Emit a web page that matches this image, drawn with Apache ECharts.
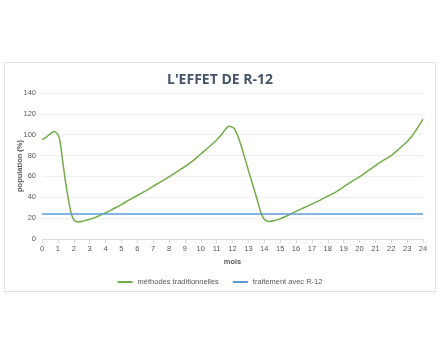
<!DOCTYPE html>
<html>
<head>
<meta charset="utf-8">
<script src="https://cdn.jsdelivr.net/npm/echarts@6/dist/echarts.min.js"></script>
<style>
  html, body { margin: 0; padding: 0; background: #fff; }
  #myChart { width: 440px; height: 352px; }
</style>
</head>
<body>
<div id="myChart"></div>
<script>
// points (mois, population %)
var traditionnellesMois = [0, 0.25, 0.5, 0.78, 1, 1.13, 1.3, 1.5, 1.72, 1.89, 2.04, 2.3, 2.6, 3, 3.4,
    4, 4.5, 5, 5.5, 5.86, 6.5, 7, 7.5, 8, 8.7, 9, 9.5, 9.82, 10, 10.5, 11, 11.3, 11.5, 11.77,
    12, 12.13, 12.45, 12.75, 13, 13.5, 13.8, 14, 14.3, 14.6, 15, 15.6, 16, 16.5, 17, 17.5,
    17.93, 18.5, 19, 19.5, 20.1, 20.6, 21.2, 21.5, 22, 22.5, 23, 23.27, 23.5, 24];
var traditionnelles = [95.3, 97.5, 100.5, 103, 100, 94, 75, 53, 33, 22, 17.7, 16.4, 17.3, 18.8, 21,
    25, 29, 33, 37.5, 40.5, 46, 50.5, 55, 59.5, 66.5, 69.5, 75, 79, 81.5, 88, 95, 100, 104, 108,
    107, 105.6, 94, 79, 66, 40.5, 25, 19, 16.7, 17.5, 19.3, 23.5, 26.5, 30, 33.5, 37,
    40.5, 45, 50, 55, 60.5, 66, 72.5, 75.5, 80, 86.5, 93.5, 98, 103, 115];
var r12Mois = [0, 24];
var r12 = [24, 24];

function pairs(xs, ys) {
    var out = [];
    for (var i = 0; i < xs.length; i++) out.push([xs[i], ys[i]]);
    return out;
}

var labelColor = '#595959';
var myChart = echarts.init(document.getElementById("myChart"));
var option = {
    backgroundColor: '#fff',
    animation: false,
    graphic: [{
        type: 'rect',
        shape: { x: 4.5, y: 62.5, width: 431, height: 229 },
        style: { fill: '#fff', stroke: '#e3e3e3', lineWidth: 1 },
        z: -10
    }],
    title: {
        text: "L'EFFET DE R-12",
        left: 'center',
        top: 68,
        textStyle: {
            color: '#44546a',
            fontFamily: 'Open Sans',
            fontWeight: 'bold',
            fontSize: 14
        }
    },
    grid: {
        left: 42,
        right: 17,
        top: 93,
        bottom: 113
    },
    legend: {
        bottom: 61,
        left: 'center',
        itemWidth: 15,
        itemHeight: 2,
        itemGap: 14,
        icon: 'rect',
        textStyle: { color: labelColor, fontSize: 7.5, fontFamily: 'Liberation Sans' },
        data: ['méthodes traditionnelles', 'traitement avec R-12']
    },
    xAxis: {
        type: 'value',
        min: 0,
        max: 24,
        interval: 1,
        name: 'mois',
        nameLocation: 'middle',
        nameGap: 19,
        nameTextStyle: { color: labelColor, fontWeight: 'bold', fontSize: 7.5, fontFamily: 'Liberation Sans' },
        axisLine: { show: true, lineStyle: { color: '#d9d9d9' } },
        axisTick: { show: true, length: 4, lineStyle: { color: '#d9d9d9' } },
        axisLabel: { color: labelColor, fontSize: 7.5, margin: 6, fontFamily: 'Liberation Sans' },
        splitLine: { show: false }
    },
    yAxis: {
        type: 'value',
        min: 0,
        max: 140,
        interval: 20,
        name: 'population (%)',
        nameLocation: 'middle',
        nameGap: 18,
        nameMoveOverlap: false,
        nameTextStyle: { color: labelColor, fontWeight: 'bold', fontSize: 7.5, fontFamily: 'Liberation Sans' },
        axisLine: { show: false },
        axisTick: { show: false },
        axisLabel: { color: labelColor, fontSize: 7.5, margin: 6, fontFamily: 'Liberation Sans' },
        splitLine: { lineStyle: { color: '#efefef' } }
    },
    series: [
        {
            name: 'méthodes traditionnelles',
            type: 'line',
            data: pairs(traditionnellesMois, traditionnelles),
            smooth: 0.3,
            showSymbol: false,
            itemStyle: { color: '#70ad47' },
            lineStyle: { color: '#70ad47', width: 1.5 }
        },
        {
            name: 'traitement avec R-12',
            type: 'line',
            data: pairs(r12Mois, r12),
            showSymbol: false,
            itemStyle: { color: '#5b9bd5' },
            lineStyle: { color: '#5b9bd5', width: 1.5 }
        }
    ]
};
myChart.setOption(option);
</script>
</body>
</html>
